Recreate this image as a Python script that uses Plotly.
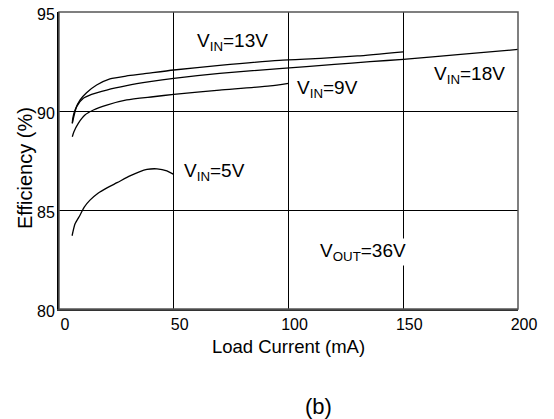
import plotly.graph_objects as go

# Load current (mA) and efficiency (%) for each input voltage
x_13v = [5.8, 6.0, 7.0, 9.2, 12.0, 16.4, 22.2, 29.5, 36.7, 50, 70, 96, 114, 130, 150]
y_13v = [89.38, 89.63, 90.05, 90.56, 90.92, 91.31, 91.62, 91.77, 91.87, 92.07, 92.3, 92.56, 92.66, 92.78, 92.99]

x_18v = [5.8, 7.7, 10.6, 14.2, 20.8, 29.5, 39.6, 50, 70, 96, 120, 135.5, 150, 175, 200]
y_18v = [89.38, 90.22, 90.64, 90.84, 91.06, 91.28, 91.48, 91.65, 91.9, 92.14, 92.35, 92.49, 92.61, 92.86, 93.11]

x_9v = [5.8, 6.5, 8.4, 11.3, 15.0, 20.8, 29.5, 41.0, 50, 70, 92, 100]
y_9v = [88.7, 88.95, 89.38, 89.8, 90.05, 90.3, 90.56, 90.72, 90.84, 91.05, 91.27, 91.4]

x_5v = [5.7, 7.0, 9.2, 11.0, 13.5, 17.0, 20.9, 25.3, 30.9, 35.0, 38.3, 42.7, 47.0, 50]
y_5v = [83.7, 84.3, 84.75, 85.15, 85.5, 85.85, 86.12, 86.38, 86.72, 86.93, 87.05, 87.08, 86.98, 86.8]

x_ticks = [0, 50, 100, 150, 200]
y_ticks = [80, 85, 90, 95]

FONT = "Arial, Liberation Sans, sans-serif"

# the page body adds an 8px offset; compensate so the plot lands at 59..518 x 12..309
OFF = 8
W, H = 554, 419
ML, MR, MT, MB = 59 - OFF, 36 + OFF, 12 - OFF, 110 + OFF
PW, PH = W - ML - MR, H - MT - MB

fig = go.Figure()
for xs, ys in [(x_13v, y_13v), (x_18v, y_18v), (x_9v, y_9v), (x_5v, y_5v)]:
    fig.add_trace(go.Scatter(x=xs, y=ys, mode="lines",
                             line=dict(color="black", width=1.3, shape="spline", smoothing=0.6),
                             showlegend=False, hoverinfo="skip", cliponaxis=False))

labels = [
    ("V<sub>IN</sub>=13V", 59.3, 93.48),
    ("V<sub>IN</sub>=9V", 102.8, 91.11),
    ("V<sub>IN</sub>=18V", 162.5, 91.82),
    ("V<sub>IN</sub>=5V", 53.6, 86.92),
]
for txt, xx, yy in labels:
    fig.add_annotation(x=xx, y=yy, text=txt, showarrow=False, xanchor="left", yanchor="middle",
                       font=dict(family=FONT, size=19, color="black"))

fig.add_annotation(x=132.5, y=82.88, text="V<sub>OUT</sub>=36V", showarrow=False,
                   xanchor="center", yanchor="middle", bgcolor="white",
                   font=dict(family=FONT, size=19, color="black"))

# y tick labels drawn as text next to the axis (the top one would otherwise be dropped)
for v in y_ticks:
    fig.add_annotation(x=-2 / PW, y=v, xref="paper", yref="y", text=str(v), showarrow=False,
                       xanchor="right", yanchor="middle", yshift=-2,
                       font=dict(family=FONT, size=16, color="black"))

# "(b)" centred at viewport pixel (318, 406)
fig.add_annotation(x=(318 - OFF - ML) / PW, y=-(406 - OFF - (H - MB)) / PH, xref="paper", yref="paper",
                   text="(b)", showarrow=False, xanchor="center", yanchor="middle",
                   font=dict(family=FONT, size=22, color="black"))

# y-axis title centred at viewport pixel (25, 168)
fig.add_annotation(x=-(ML - (25 - OFF)) / PW, y=1 - (168 - OFF - MT) / PH, xref="paper", yref="paper",
                   text="Efficiency (%)", showarrow=False, textangle=-90,
                   xanchor="center", yanchor="middle",
                   font=dict(family=FONT, size=20, color="black"))

fig.update_layout(
    width=W, height=H,
    margin=dict(l=ML, r=MR, t=MT, b=MB, pad=0, autoexpand=False),
    paper_bgcolor="white", plot_bgcolor="white",
    font=dict(family=FONT, size=16, color="black"),
)

fig.update_xaxes(range=[0, 200], tickvals=x_ticks, ticks="", showgrid=True, gridcolor="black",
                 gridwidth=1, showline=True, linecolor="#333", linewidth=2, mirror=False,
                 zeroline=False, ticklabelshift=6, automargin=False,
                 title=dict(text="Load Current (mA)", font=dict(size=18.5), standoff=8),
                 tickfont=dict(size=16))
fig.update_yaxes(range=[80, 95], tickvals=y_ticks, ticks="", showgrid=True, gridcolor="black",
                 gridwidth=1, showline=True, linecolor="black", linewidth=2, mirror=False,
                 zeroline=False, automargin=False, showticklabels=False)
# right and top border
fig.add_shape(type="rect", xref="paper", yref="paper", x0=0, y0=0, x1=1, y1=1,
              line=dict(color="#555", width=1.5), layer="above")

fig.write_html("out.html", config={"responsive": False})
